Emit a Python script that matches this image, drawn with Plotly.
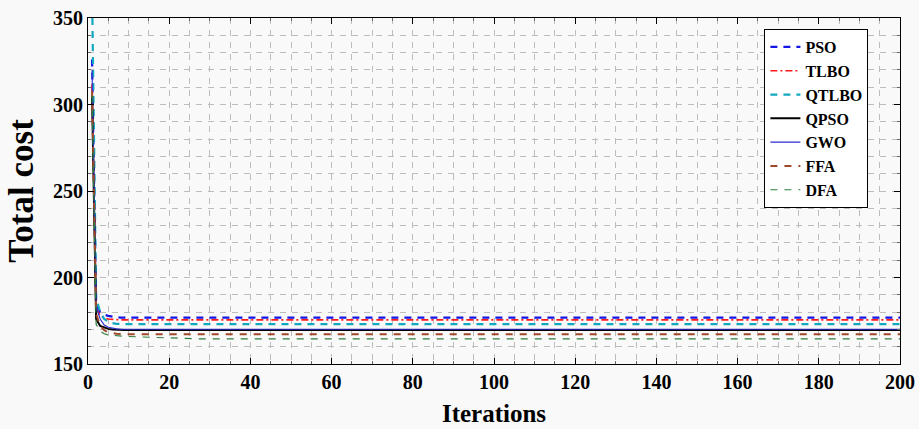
import plotly.graph_objects as go

n_iter = 200
iterations = list(range(1, n_iter + 1))

names = ["PSO", "TLBO", "QTLBO", "QPSO", "GWO", "FFA", "DFA"]

# Early iteration values; after the list ends the best-so-far value is held
pso_early = [326, 184, 180, 178.5, 177.8, 177.3, 177.0, 176.8]
tlbo_early = [312, 182, 178, 176.5, 176.0, 175.7, 175.5]
qtlbo_early = [365, 188, 180, 176, 174.5, 173.6, 173.2, 173.0]
qpso_early = [305, 176, 172, 171, 170.3, 170.0, 169.8, 169.7]
gwo_early = [320, 183, 176, 172.5, 171.2, 170.6, 170.3, 170.1]
ffa_early = [308, 179, 172, 169.5, 168.3, 167.8, 167.5, 167.3, 167.2]
dfa_early = [305, 173, 169, 167.5, 166.8, 166.5, 166.3, 166.1, 166.0, 165.9,
             165.8, 165.7, 165.6, 165.5, 165.4, 165.3, 165.2, 165.1, 165.0, 164.9,
             164.8, 164.7, 164.6, 164.5]

early_values = [pso_early, tlbo_early, qtlbo_early, qpso_early, gwo_early, ffa_early, dfa_early]

colors = ["#1515e6", "#ff1a1a", "#12a8c0", "#000000", "#2b2bd0", "#a0472a", "#2e7d3a"]
dashes = ["7px,6px", "7px,3px,2px,3px", "7px,6px", "solid", "solid", "7px,7px", "7px,7px"]
widths = [2.2, 1.6, 2.2, 2.0, 1.1, 2.0, 1.2]


def hold_series(early, n):
    return early + [early[-1]] * (n - len(early))


fig = go.Figure()
for name, early, c, d, w in zip(names, early_values, colors, dashes, widths):
    fig.add_trace(go.Scatter(
        x=iterations, y=hold_series(early, n_iter), mode="lines", name=name,
        line=dict(color=c, dash=d, width=w),
    ))

font_family = "Liberation Serif"
grid = dict(showgrid=True, gridcolor="#bdbdbd", griddash="6px,6px", gridwidth=1)

fig.update_layout(
    width=919, height=429,
    margin=dict(l=88, r=19, t=18, b=65),
    paper_bgcolor="#f9f9f9", plot_bgcolor="#f9f9f9",
    font=dict(family=font_family, color="#000000"),
    showlegend=True,
    legend=dict(
        x=0.833, y=0.968, xanchor="left", yanchor="top",
        bgcolor="#ffffff", bordercolor="#000000", borderwidth=1,
        font=dict(family=font_family, size=16, color="#000000", weight="bold"),
        tracegroupgap=0, itemwidth=30,
    ),
)

fig.update_xaxes(
    range=[0, 200], dtick=20, tick0=0, automargin=False,
    showline=True, linecolor="#000000", linewidth=1.2, mirror="ticks",
    ticks="inside", ticklen=6, tickcolor="#000000",
    tickfont=dict(family=font_family, size=20, weight="bold"),
    title=dict(text="Iterations", font=dict(family=font_family, size=25, weight="bold"), standoff=12),
    zeroline=False,
    minor=dict(dtick=5, showgrid=True, gridcolor="#bdbdbd", griddash="6px,6px", ticks="inside", ticklen=3, tickcolor="#666666"),
    **grid,
)
fig.update_yaxes(
    range=[150, 350], dtick=50, tick0=150, automargin=False,
    showline=True, linecolor="#000000", linewidth=1.2, mirror="ticks",
    ticks="inside", ticklen=6, tickcolor="#000000",
    tickfont=dict(family=font_family, size=20, weight="bold"),
    title=dict(text="Total cost", font=dict(family=font_family, size=35, weight="bold"), standoff=8),
    zeroline=False,
    minor=dict(dtick=10, showgrid=True, gridcolor="#bdbdbd", griddash="6px,6px", ticks="inside", ticklen=3, tickcolor="#666666"),
    **grid,
)

fig.write_html("out.html")
